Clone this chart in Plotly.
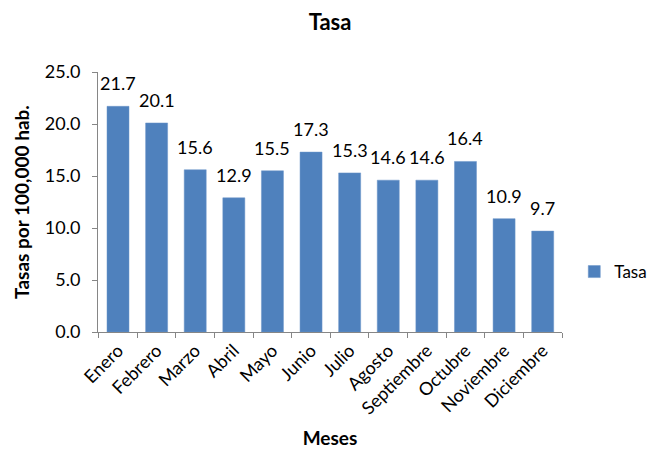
import plotly.graph_objects as go

# === data ===
meses = ["Enero", "Febrero", "Marzo", "Abril", "Mayo", "Junio", "Julio",
         "Agosto", "Septiembre", "Octubre", "Noviembre", "Diciembre"]
tasa = [21.7, 20.1, 15.6, 12.9, 15.5, 17.3, 15.3, 14.6, 14.6, 16.4, 10.9, 9.7]

FONT = "Lato, 'Open Sans', sans-serif"
AXIS_GREY = "#868686"

fig = go.Figure()
fig.add_trace(go.Bar(
    x=meses,
    y=tasa,
    name="Tasa",
    marker=dict(color="#4F81BD", line=dict(color="#6A94C8", width=0.5)),
))

# value labels sit a bit above each bar, like the Excel data labels
for m, v in zip(meses, tasa):
    fig.add_annotation(
        x=m, y=v, text=f"{v:.1f}", showarrow=False,
        yanchor="bottom", yshift=10,
        font=dict(family=FONT, size=18, color="#000000"),
    )

fig.update_layout(
    width=660,
    height=464,
    plot_bgcolor="white",
    paper_bgcolor="white",
    font=dict(family=FONT, size=18, color="#000000"),
    margin=dict(l=90, r=106, t=64, b=140),
    bargap=0.43,
    title=dict(text="<b>Tasa</b>", x=0.488, xanchor="center", y=0.97,
               yanchor="middle", font=dict(size=22)),
    showlegend=True,
    legend=dict(xref="container", yref="container", x=0.858, y=0.431,
                xanchor="left", yanchor="middle",
                font=dict(size=17), bgcolor="rgba(0,0,0,0)"),
    xaxis=dict(
        showline=True, linecolor=AXIS_GREY, linewidth=1,
        ticks="outside", ticklen=5, tickcolor=AXIS_GREY,
        tickson="boundaries", tickangle=-45,
        tickfont=dict(size=18),
        title=dict(text="<b>Meses</b>", font=dict(size=19), standoff=14),
    ),
    yaxis=dict(
        range=[0, 25], dtick=5, tickformat=".1f",
        showline=True, linecolor=AXIS_GREY, linewidth=1,
        ticks="outside", ticklen=5, tickcolor=AXIS_GREY,
        showgrid=False, zeroline=False,
        tickfont=dict(size=18), ticklabelstandoff=8,
        title=dict(text="<b>Tasas por 100,000 hab.</b>", font=dict(size=19),
                   standoff=10),
    ),
)

fig.write_html("out.html")
